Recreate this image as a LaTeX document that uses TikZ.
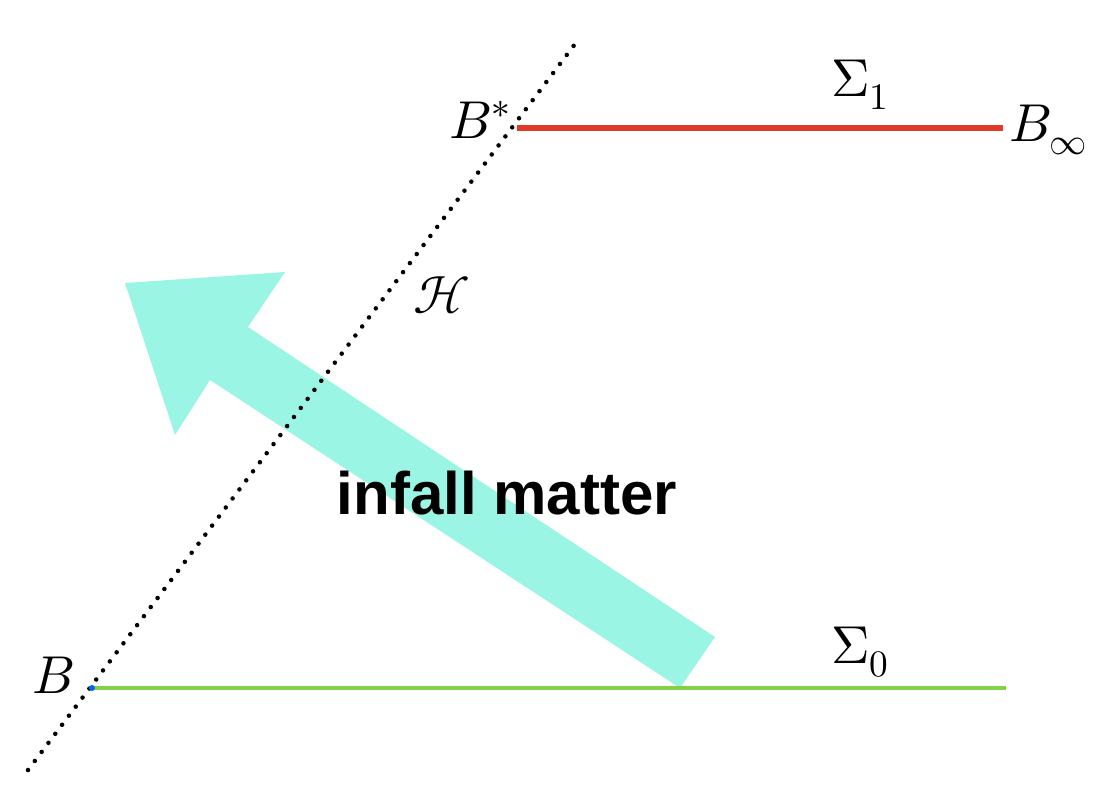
\documentclass[tikz,border=0pt]{standalone}
\usepackage{fontspec}
\usepackage{unicode-math}
\setsansfont{Liberation Sans}
\definecolor{infall}{RGB}{155,245,228}
\definecolor{sigone}{RGB}{222,60,40}
\definecolor{sigzero}{RGB}{130,210,70}
\tikzset{lbl/.style={inner sep=0.75pt,font=\fontsize{40}{44}\selectfont}}
\begin{document}
\begin{tikzpicture}[x=0.75pt,y=0.75pt,yscale=-1,xscale=1]
	\useasboundingbox (0,0) rectangle (1112,786);

	% Infall arrow
	\fill [infall] (680,688) -- (715,637) -- (248,327) -- (285,272) -- (125,283) -- (175,435) -- (210,380) -- cycle ;
	% Horizon
	\coordinate (hlow) at (28,770);
	\coordinate (hup) at (578,40);
	\draw [line width=3.4, dash pattern=on 0pt off 8.5pt, line cap=round] (hlow) -- (hup) ;
	% Points
	\coordinate (B) at (92,688);
	\coordinate (Bs) at (517,128);
	\coordinate (Binf) at (1003,128);
	\coordinate (Bend) at (1006,688);
	% Slices
	\draw [sigone, line width=5] (Bs) -- (Binf) ;
	\draw [sigzero, line width=3] (B) -- (Bend) ;
	\fill [blue!60!cyan] (B) circle [radius=3];
	% Text Node
	\node [lbl, anchor=east] at (76,675) {$B$};
	\node [lbl, anchor=east] at (512,120) {$B^{*}$};
	\node [lbl, anchor=west] at (1008,130) {$B_\infty$};
	\node [lbl] at (860,85) {$\Sigma_1$};
	\node [lbl] at (860,652) {$\Sigma_0$};
	\node [lbl] at (442,295) {$\mathcal{H}$};
	\node [inner sep=0.75pt, font=\sffamily\bfseries\fontsize{45}{50}\selectfont] at (507,493) {infall matter};
\end{tikzpicture}
\end{document}
